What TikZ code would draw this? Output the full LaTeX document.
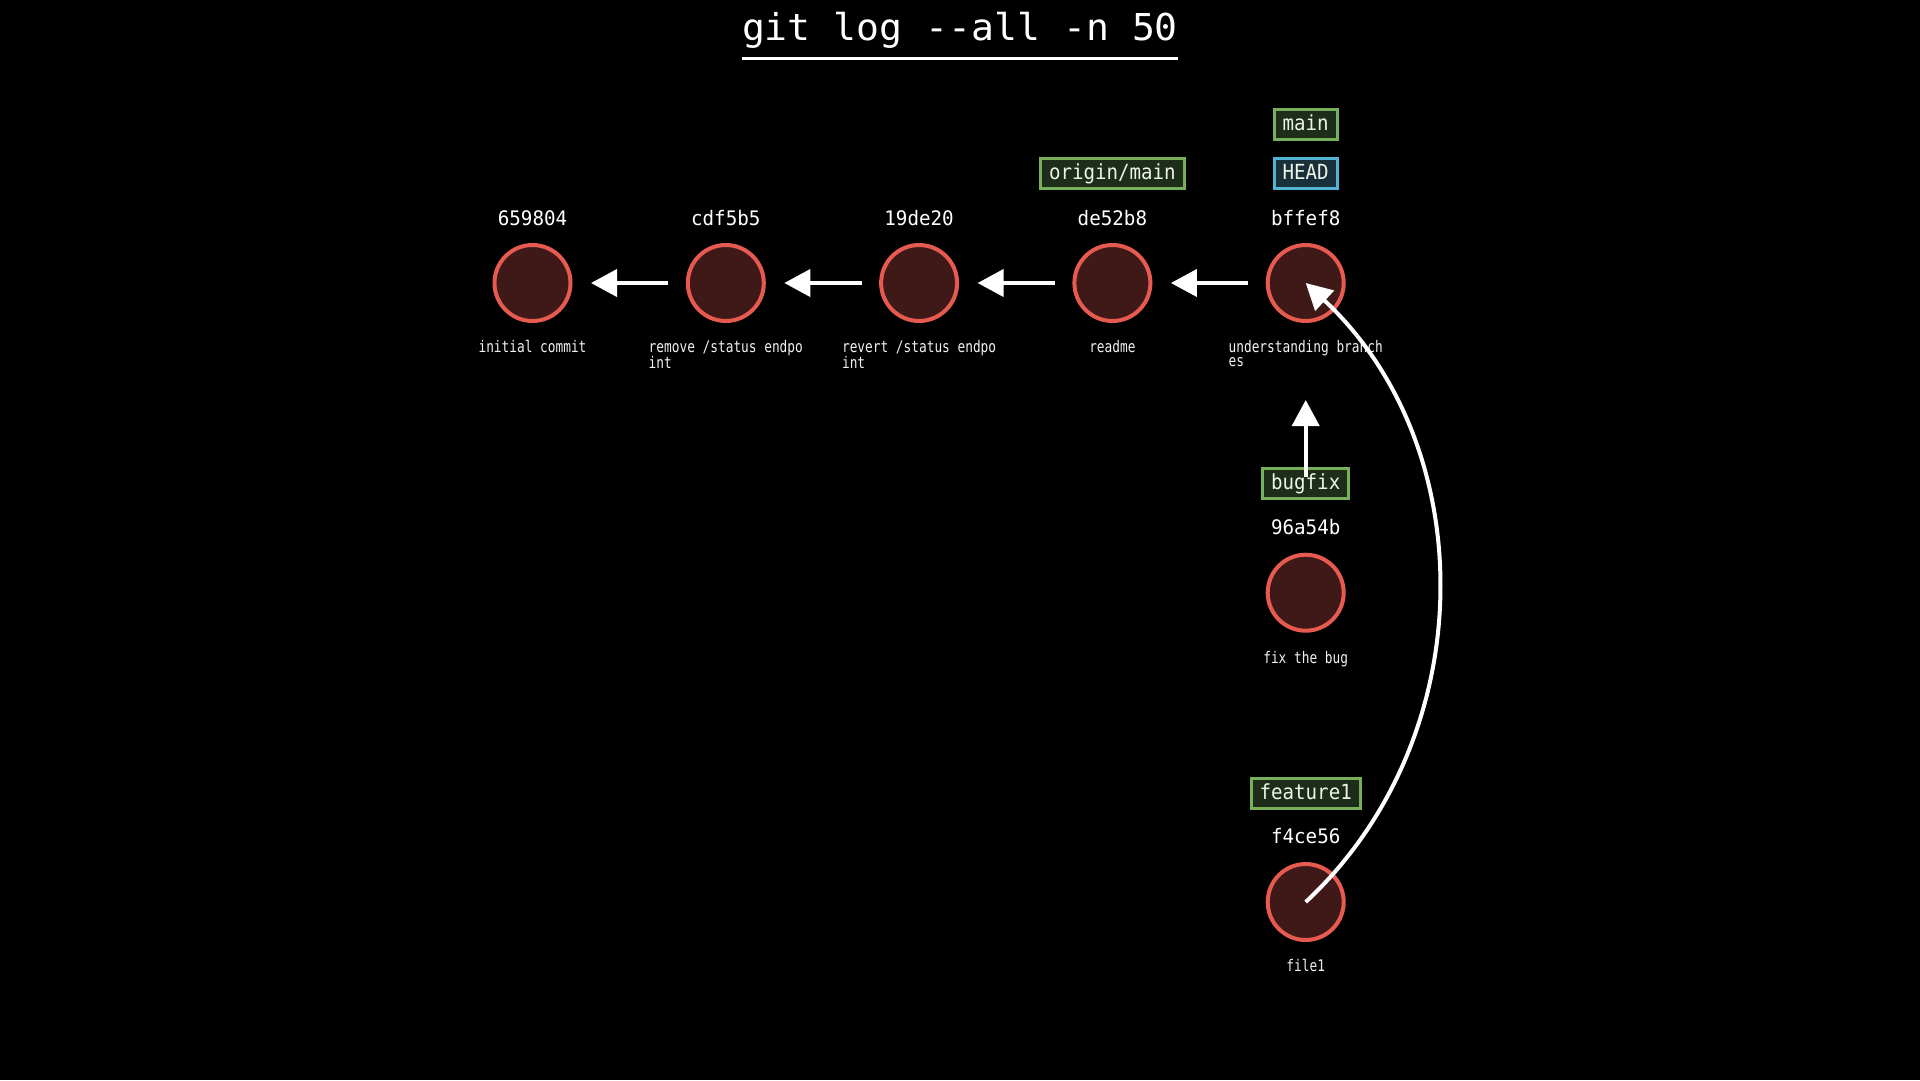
\documentclass[tikz,border=0pt]{standalone}
\usepackage{fontspec}
\usetikzlibrary{arrows.meta}
\newfontfamily\titlefont[FakeStretch=1.03]{DejaVu Sans Mono}
\newfontfamily\hashfont[FakeStretch=0.96]{DejaVu Sans Mono}
\newfontfamily\reffont[FakeStretch=0.92]{DejaVu Sans Mono}
\newfontfamily\msgfont[FakeStretch=0.8]{DejaVu Sans Mono}
\definecolor{commitline}{HTML}{E65A50}
\definecolor{commitfill}{HTML}{3E1918}
\definecolor{refline}{HTML}{78AF5A}
\definecolor{reffill}{HTML}{1E2D19}
\definecolor{headline}{HTML}{50B4D2}
\definecolor{headfill}{HTML}{19303A}
\definecolor{reftext}{HTML}{EEF4E8}
\definecolor{msgtext}{HTML}{F2F2F2}
\tikzset{
  commit/.style={circle, draw=commitline, fill=commitfill, line width=4pt, minimum size=76pt, inner sep=0pt, outer sep=0pt},
  hash/.style={font=\hashfont\fontsize{20}{24}\selectfont, text=white, anchor=base, inner sep=0pt},
  msg/.style={font=\msgfont\fontsize{16}{13.5}\selectfont, text=msgtext, anchor=base, inner sep=0pt},
  ref/.style={draw=refline, fill=reffill, line width=3pt, font=\reffont\fontsize{20.8}{24}\selectfont, text=reftext, inner xsep=8.5pt, inner ysep=6pt, text height=15pt, text depth=3pt},
  headref/.style={ref, draw=headline, fill=headfill},
  arr/.style={draw=white, line width=4pt, -{Triangle[length=26pt,width=27pt]}},
  harr/.style={arr, shorten <=19.5pt, shorten >=20.5pt}
}
\begin{document}
\begin{tikzpicture}[x=1pt,y=-1pt]
\fill[black] (0,0) rectangle (1920,1080);
\useasboundingbox (0,0) rectangle (1920,1080);

% title
\node[font=\titlefont\fontsize{37}{44}\selectfont, text=white, anchor=base, inner sep=0pt] (title) at (960,40) {git log -\kern0pt-all -n 50};
\draw[white, line width=3pt] ([yshift=-18.5pt]title.base west) -- ([yshift=-18.5pt]title.base east);

% commits
\node[commit] (c1) at (532.5,283) {};
\node[commit] (c2) at (725.8,283) {};
\node[commit] (c3) at (919.1,283) {};
\node[commit] (c4) at (1112.4,283) {};
\node[commit] (c5) at (1305.7,283) {};
\node[commit] (c6) at (1305.7,592.7) {};
\node[commit] (c7) at (1305.7,902) {};

% hashes
\node[hash] (h1) at (532.5,225) {659804};
\node[hash] (h2) at (725.8,225) {cdf5b5};
\node[hash] (h3) at (919.1,225) {19de20};
\node[hash] (h4) at (1112.4,225) {de52b8};
\node[hash] (h5) at (1305.7,225) {bffef8};
\node[hash] (h6) at (1305.7,534.3) {96a54b};
\node[hash] (h7) at (1305.7,843.8) {f4ce56};

% messages
\node[msg] (m1) at (532.5,352.7) {initial commit};
\node[msg] (m2) at (725.8,352.7) {\begin{tabular}[t]{@{}l@{}}remove /status endpo\\int\end{tabular}};
\node[msg] (m3) at (919.1,352.7) {\begin{tabular}[t]{@{}l@{}}revert /status endpo\\int\end{tabular}};
\node[msg] (m4) at (1112.4,352.7) {readme};
\node[msg] (m5) at (1305.7,352.7) {\begin{tabular}[t]{@{}l@{}}understanding branch\\es\end{tabular}};
\node[msg] (m6) at (1305.7,663) {fix the bug};
\node[msg] (m7) at (1305.7,971.5) {file1};

% refs
\node[ref] (main) at (1305.7,124) {main};
\node[headref] (head) at (1305.7,173.5) {HEAD};
\node[ref] (origin) at (1112.4,173.5) {origin/main};
\node[ref] (bugfix) at (1305.7,483.3) {bugfix};
\node[ref] (feature) at (1305.7,793.5) {feature1};

% connectors
\draw[harr] (c2) -- (c1);
\draw[harr] (c3) -- (c2);
\draw[harr] (c4) -- (c3);
\draw[harr] (c5) -- (c4);
\coordinate (bftip) at (1305.7,400);
\draw[arr] ([yshift=6.6pt]bugfix.center) -- (bftip);
\draw[arr] (c7.center) to[bend right=47] (c5.center);
\end{tikzpicture}
\end{document}
